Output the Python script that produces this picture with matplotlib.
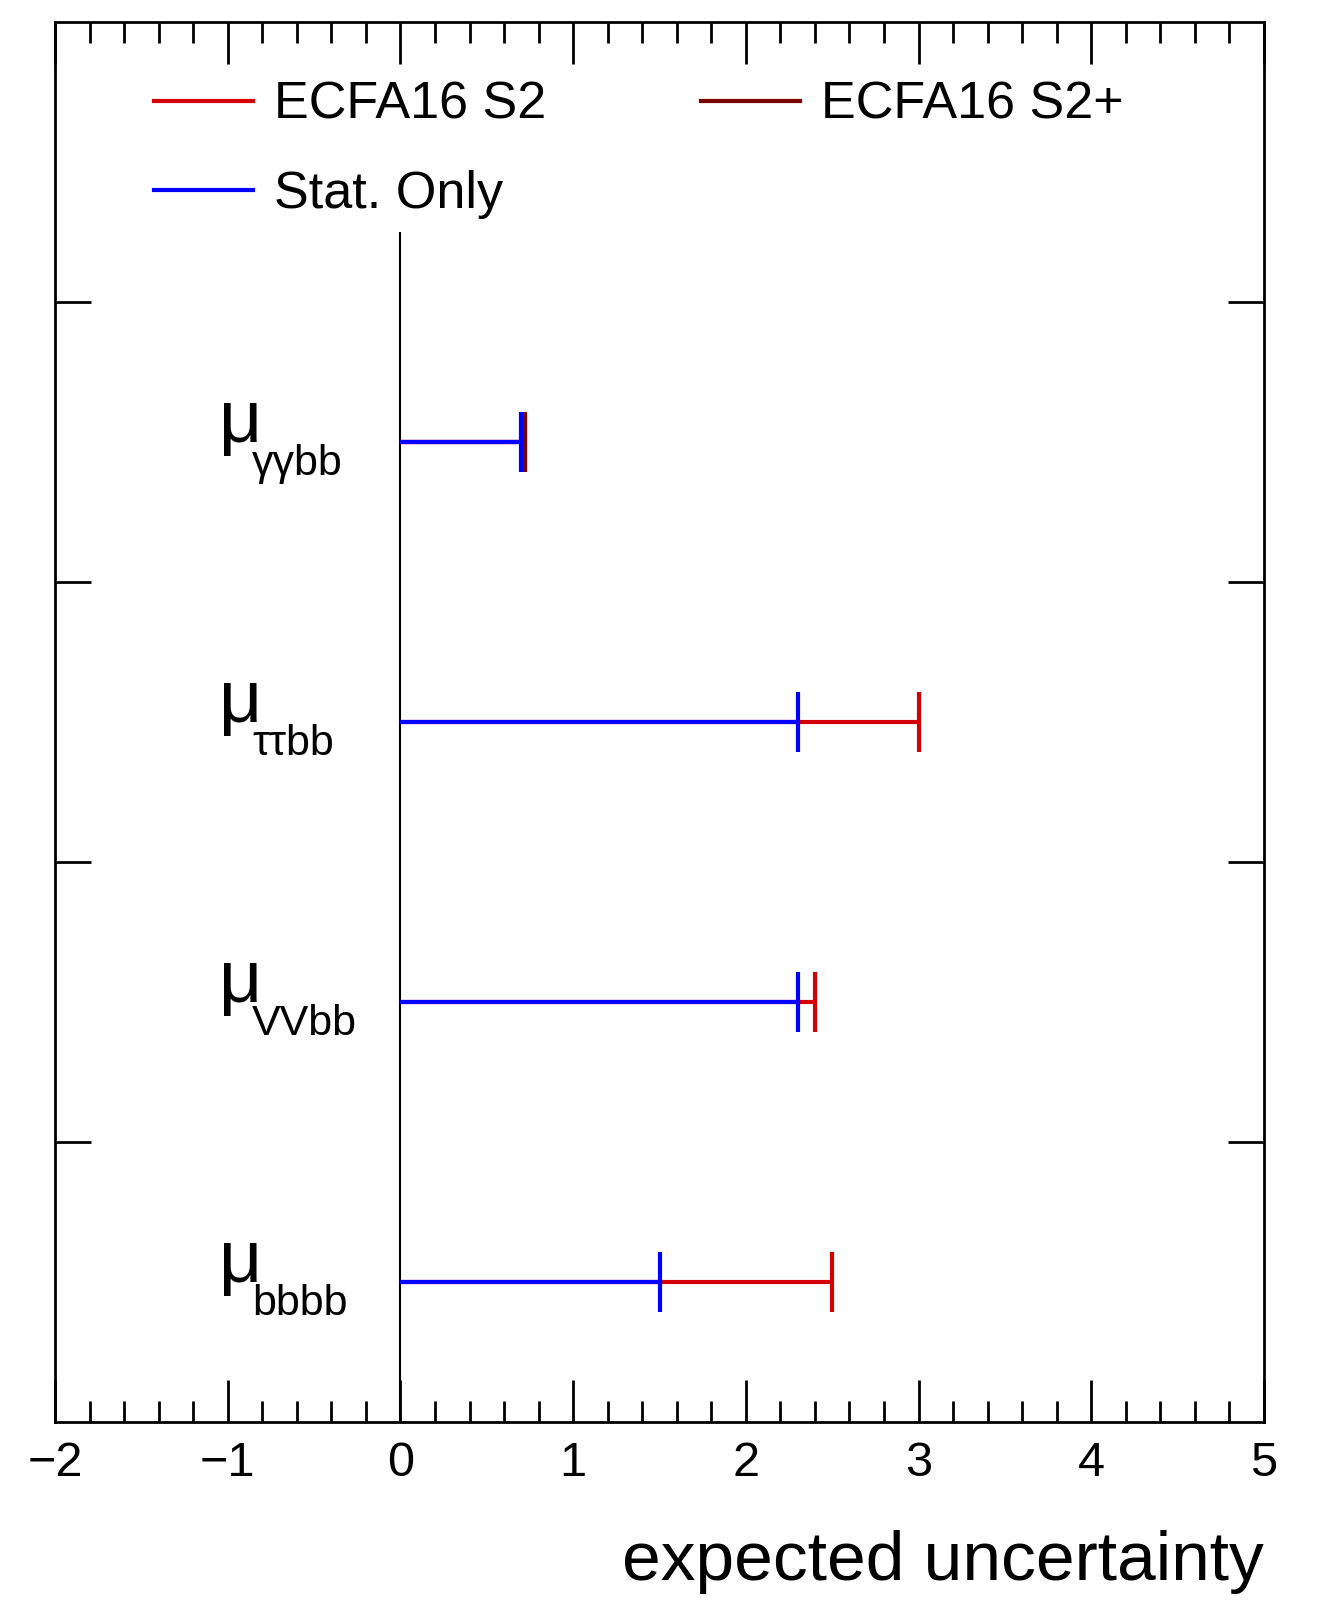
import numpy as np
import matplotlib
matplotlib.use("Agg")
import matplotlib.pyplot as plt
from matplotlib.lines import Line2D
from matplotlib.ticker import MultipleLocator, FixedLocator, NullFormatter

plt.rcParams['font.family'] = ['Liberation Sans', 'DejaVu Sans']

# ---- data ----
categories = ["bbbb", "VVbb", "\u03c4\u03c4bb", "\u03b3\u03b3bb"]   # bottom -> top
ypos = [0.5, 1.5, 2.5, 3.5]
ecfa16_s2 = [2.50, 2.40, 3.00, 0.72]
ecfa16_s2plus = [np.nan, np.nan, np.nan, 0.72]
stat_only = [1.50, 2.30, 2.30, 0.70]
legend_labels = ["ECFA16 S2", "ECFA16 S2+", "Stat. Only"]
xlabel = "expected uncertainty"

c_s2 = "#d40000"
c_s2p = "#7a0000"
c_stat = "#0000ff"

fig = plt.figure(figsize=(13.36, 16), dpi=100)
ax = fig.add_axes([55/1336, 1 - 1422/1600, (1264-55)/1336, 1400/1600])
ax.set_xlim(-2, 5)
ax.set_ylim(0, 5)

cap = 0.107
lw = 3.0

def draw(vals, color):
    for v, y in zip(vals, ypos):
        if np.isnan(v):
            continue
        ax.hlines(y, 0, v, color=color, lw=lw, zorder=3)
        ax.vlines(v, y - cap, y + cap, color=color, lw=lw, zorder=3)

draw(ecfa16_s2, c_s2)
draw(ecfa16_s2plus, c_s2p)
draw(stat_only, c_stat)

# zero line
ax.vlines(0, 0, 4.25, color="black", lw=1.5, zorder=2)

# category labels
for cat, y in zip(categories, ypos):
    ax.text(-1.05, y, "\u03bc", fontsize=54, va="baseline", ha="left")
    ax.text(-0.86, y - 0.118, cat, fontsize=31, va="baseline", ha="left")

# ticks
ax.xaxis.set_major_locator(MultipleLocator(1))
ax.xaxis.set_minor_locator(MultipleLocator(0.2))
ax.yaxis.set_major_locator(FixedLocator([1, 2, 3, 4]))
ax.yaxis.set_major_formatter(NullFormatter())
ax.tick_params(axis="x", which="major", direction="in", length=30, width=2,
               top=True, bottom=True, labelsize=35, pad=14)
ax.tick_params(axis="x", which="minor", direction="in", length=15, width=2,
               top=True, bottom=True)
ax.tick_params(axis="y", which="major", direction="in", length=26, width=2,
               left=True, right=True)
for s in ax.spines.values():
    s.set_linewidth(2)

# legend
handles = [Line2D([], [], color=c_s2, lw=lw),
           Line2D([], [], color=c_stat, lw=lw),
           Line2D([], [], color=c_s2p, lw=lw)]
labels = [legend_labels[0], legend_labels[2], legend_labels[1]]
leg = ax.legend(handles, labels, ncol=2, loc="upper left",
                bbox_to_anchor=(0.082, 0.958), frameon=False, fontsize=37.5,
                handlelength=1.9, handletextpad=0.4, columnspacing=2.98,
                labelspacing=0.78, borderaxespad=0, borderpad=0)

ax.set_xlabel(xlabel, fontsize=50)
ax.xaxis.label.set_ha("right")
ax.xaxis.label.set_va("baseline")
ax.xaxis.set_label_coords(1.0, -158/1400)

fig.savefig("out.png", dpi=100)
